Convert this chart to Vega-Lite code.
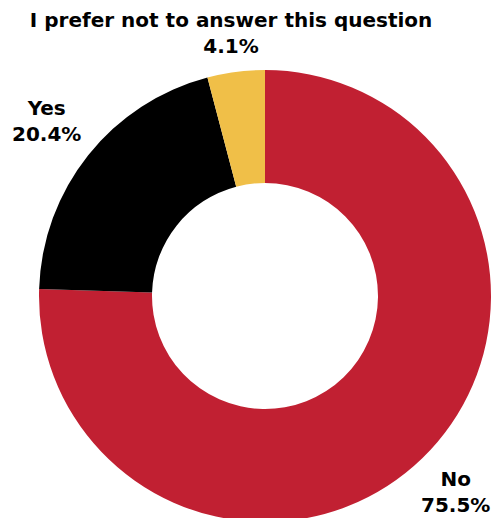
{
  "$schema": "https://vega.github.io/schema/vega-lite/v6.json",
  "width": 452,
  "height": 452,
  "autosize": "none",
  "padding": {"left": 39, "top": 70, "right": 2, "bottom": 0},
  "background": "white",
  "view": {"stroke": null},
  "data": {
    "values": [
      {"answer": "No", "pct": 75.5, "label": "No\n75.5%", "order": 1},
      {"answer": "Yes", "pct": 20.4, "label": "Yes\n20.4%", "order": 2},
      {"answer": "I prefer not to answer this question", "pct": 4.1, "label": "I prefer not to answer this question\n4.1%", "order": 3}
    ]
  },
  "encoding": {
    "theta": {"field": "pct", "type": "quantitative", "stack": true},
    "order": {"field": "order", "type": "quantitative"}
  },
  "layer": [
    {
      "mark": {"type": "arc", "outerRadius": 226, "innerRadius": 113},
      "encoding": {
        "color": {
          "field": "answer",
          "type": "nominal",
          "scale": {
            "domain": ["No", "Yes", "I prefer not to answer this question"],
            "range": ["#C12032", "#000000", "#F0BF48"]
          },
          "legend": null
        }
      }
    },
    {
      "mark": {"type": "text", "radius": 274, "dy": -13, "font": "DejaVu Sans", "fontWeight": "bold", "fontSize": 20, "lineBreak": "\n", "lineHeight": 26, "align": "center", "baseline": "middle", "color": "black"},
      "encoding": {"text": {"condition": {"test": "datum.order === 1", "field": "label"}, "value": ""}}
    },
    {
      "mark": {"type": "text", "radius": 279, "dy": -13, "font": "DejaVu Sans", "fontWeight": "bold", "fontSize": 20, "lineBreak": "\n", "lineHeight": 26, "align": "center", "baseline": "middle", "color": "black"},
      "encoding": {"text": {"condition": {"test": "datum.order === 2", "field": "label"}, "value": ""}}
    },
    {
      "mark": {"type": "text", "radius": 264, "dy": -13, "font": "DejaVu Sans", "fontWeight": "bold", "fontSize": 20, "lineBreak": "\n", "lineHeight": 26, "align": "center", "baseline": "middle", "color": "black"},
      "encoding": {"text": {"condition": {"test": "datum.order === 3", "field": "label"}, "value": ""}}
    }
  ]
}
